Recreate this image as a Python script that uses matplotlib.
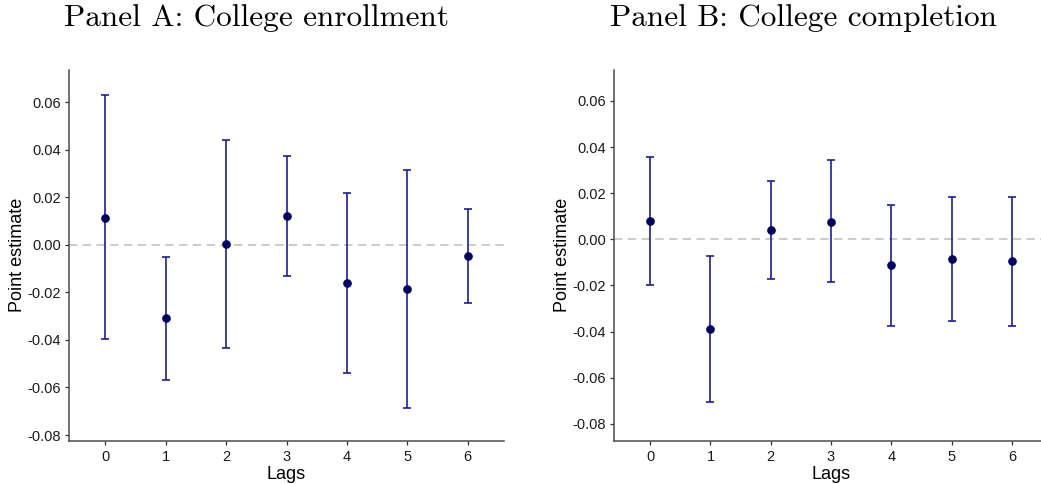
import matplotlib
matplotlib.use("Agg")
import matplotlib.pyplot as plt

plt.rcParams['font.family'] = ['Liberation Sans', 'DejaVu Sans']
plt.rcParams['axes.unicode_minus'] = False

lags = [0, 1, 2, 3, 4, 5, 6]

# Panel A: College enrollment
est_a = [0.0113, -0.0309, 0.0004, 0.0121, -0.0160, -0.0186, -0.0048]
lo_a = [-0.0397, -0.0568, -0.0433, -0.0131, -0.0539, -0.0685, -0.0243]
hi_a = [0.0630, -0.0051, 0.0439, 0.0373, 0.0218, 0.0315, 0.0151]

# Panel B: College completion
est_b = [0.0079, -0.0389, 0.0040, 0.0076, -0.0111, -0.0087, -0.0095]
lo_b = [-0.0197, -0.0706, -0.0172, -0.0185, -0.0375, -0.0354, -0.0375]
hi_b = [0.0356, -0.0072, 0.0251, 0.0343, 0.0150, 0.0185, 0.0182]

yticks = [-0.08, -0.06, -0.04, -0.02, 0.00, 0.02, 0.04, 0.06]
yticklabels = ["-0.08", "-0.06", "-0.04", "-0.02", "0.00", "0.02", "0.04", "0.06"]

W, H = 1041, 484
fig = plt.figure(figsize=(W / 100, H / 100), dpi=100)

line_col = '#1c1c96'
pt_col = '#00005e'


def panel(rect, est, lo, hi, ylim):
    ax = fig.add_axes(rect)
    ax.axhline(0, color='#bdbdbd', lw=1.1, dashes=(5.5, 3.5), zorder=1)
    for x, e, l, h in zip(lags, est, lo, hi):
        ax.errorbar([x], [e], yerr=[[e - l], [h - e]], fmt='none',
                    ecolor=line_col, elinewidth=1.2, capsize=2.8, capthick=1.2, zorder=2)
    ax.plot(lags, est, 'o', color=pt_col, ms=5.2, zorder=3)
    ax.set_xlim(-0.6, 6.6)
    ax.set_ylim(*ylim)
    ax.set_xticks(lags)
    ax.set_xticklabels([str(l) for l in lags])
    ax.set_yticks(yticks)
    ax.set_yticklabels(yticklabels)
    for s in ['top', 'right']:
        ax.spines[s].set_visible(False)
    for s in ['left', 'bottom']:
        ax.spines[s].set_color('#4d4d4d')
        ax.spines[s].set_linewidth(1.1)
    ax.tick_params(axis='both', length=3, width=0.9, color='#333333',
                   labelsize=10.5, labelcolor='#1a1a1a', pad=3)
    ax.tick_params(axis='x', pad=4)
    ax.set_xlabel('Lags', fontsize=13, labelpad=1)
    ax.set_ylabel('Point estimate', fontsize=13, labelpad=1)
    return ax


panel([69 / W, 1 - 440.5 / H, 435 / W, 370.5 / H], est_a, lo_a, hi_a, (-0.0823, 0.0735))
panel([614 / W, 1 - 440.5 / H, 434 / W, 370.5 / H], est_b, lo_b, hi_b, (-0.0872, 0.0734))

fig.text(257 / W, 1 - 18 / H, 'Panel A: College enrollment', family='cmr10',
         ha='center', va='center', fontsize=22.5)
fig.text(803 / W, 1 - 18 / H, 'Panel B: College completion', family='cmr10',
         ha='center', va='center', fontsize=22.5)

fig.savefig('out.png', dpi=100)
